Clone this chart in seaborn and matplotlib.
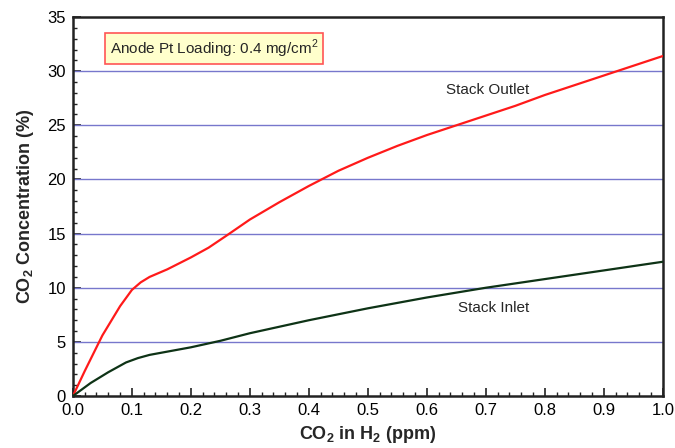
import matplotlib
matplotlib.use("Agg")
import matplotlib.pyplot as plt
import seaborn as sns
import pandas as pd
from matplotlib.ticker import MultipleLocator

sns.set_theme(style="white")
plt.rcParams['font.family'] = ['Liberation Sans', 'DejaVu Sans']
plt.rcParams['mathtext.fontset'] = 'custom'
plt.rcParams['mathtext.rm'] = 'Liberation Sans'
plt.rcParams['mathtext.bf'] = 'Liberation Sans:bold'

outlet_x = [0.0, 0.02, 0.05, 0.08, 0.1, 0.115, 0.13, 0.16, 0.2, 0.23, 0.26, 0.3, 0.35, 0.4, 0.45, 0.5, 0.55, 0.6, 0.65, 0.7, 0.75, 0.8, 0.85, 0.9, 0.95, 1.0]
outlet_y = [0.0, 2.3, 5.6, 8.3, 9.8, 10.5, 11.0, 11.7, 12.8, 13.7, 14.8, 16.3, 17.9, 19.4, 20.8, 22.0, 23.1, 24.1, 25.0, 25.9, 26.8, 27.8, 28.7, 29.6, 30.5, 31.4]
inlet_x = [0.0, 0.03, 0.06, 0.09, 0.11, 0.13, 0.15, 0.2, 0.25, 0.3, 0.35, 0.4, 0.5, 0.6, 0.7, 0.8, 0.9, 1.0]
inlet_y = [0.0, 1.2, 2.2, 3.1, 3.5, 3.8, 4.0, 4.5, 5.1, 5.8, 6.4, 7.0, 8.1, 9.1, 10.0, 10.8, 11.6, 12.4]
x_ticks = [0.0, 0.1, 0.2, 0.3, 0.4, 0.5, 0.6, 0.7, 0.8, 0.9, 1.0]
x_tick_labels = ["0.0", "0.1", "0.2", "0.3", "0.4", "0.5", "0.6", "0.7", "0.8", "0.9", "1.0"]

df_out = pd.DataFrame({"x": outlet_x, "y": outlet_y})
df_in = pd.DataFrame({"x": inlet_x, "y": inlet_y})

fig = plt.figure(figsize=(6.75, 4.48), dpi=100)
ax = fig.add_axes([0.108, 0.116, 0.874, 0.846])

for yv in [5, 10, 15, 20, 25, 30]:
    ax.axhline(yv, color="#7777CC", lw=1.0, zorder=1)

sns.lineplot(data=df_out, x="x", y="y", ax=ax, color="#FF1A1A", lw=1.6, sort=True, zorder=3)
sns.lineplot(data=df_in, x="x", y="y", ax=ax, color="#0E3316", lw=1.6, sort=True, zorder=3)

ax.set_xticks(x_ticks)
ax.set_xticklabels(x_tick_labels)
ax.xaxis.set_minor_locator(MultipleLocator(0.02))
ax.yaxis.set_major_locator(MultipleLocator(5))
ax.yaxis.set_minor_locator(MultipleLocator(1))
ax.set_xlim(0, 1.0)
ax.set_ylim(0, 35)
ax.tick_params(axis="both", which="major", direction="in", length=6, width=1.2, labelsize=12,
               bottom=True, left=True, top=False, right=False, colors="#222222", pad=5)
ax.tick_params(axis="both", which="minor", direction="in", length=3, width=1.0,
               bottom=True, left=True, top=False, right=False, colors="#222222")
for lab in ax.get_xticklabels() + ax.get_yticklabels():
    lab.set_color("black")
for s in ax.spines.values():
    s.set_color("#222222")
    s.set_linewidth(1.8)

ax.set_xlabel(r"CO$_\mathbf{2}$ in H$_\mathbf{2}$ (ppm)", fontsize=13, fontweight="bold", labelpad=4)
ax.set_ylabel(r"CO$_\mathbf{2}$ Concentration (%)", fontsize=13, fontweight="bold", labelpad=8)

ax.text(0.063, 32.1, "Anode Pt Loading: 0.4 mg/cm$^2$", fontsize=11, va="center", ha="left",
        bbox=dict(boxstyle="square,pad=0.3", facecolor="#FFFFCC", edgecolor="#FF5555", lw=1.2))
ax.text(0.632, 28.3, "Stack Outlet", fontsize=11, va="center", ha="left")
ax.text(0.652, 8.1, "Stack Inlet", fontsize=11, va="center", ha="left")

fig.savefig("out.png", dpi=100)
